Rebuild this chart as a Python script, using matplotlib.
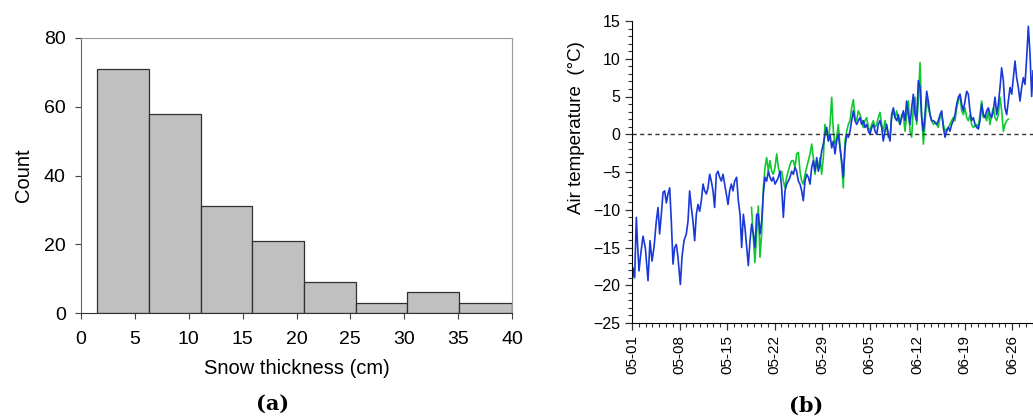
import matplotlib.pyplot as plt
from matplotlib.ticker import MultipleLocator

# (a) histogram of snow thickness
bin_edges = [1.5, 6.3, 11.1, 15.9, 20.7, 25.5, 30.3, 35.1, 40.0]
counts = [71, 58, 31, 21, 9, 3, 6, 3]

# (b) air temperature, days since 05-01
blue_day = [0.00, 0.15, 0.39, 0.64, 0.79, 1.03, 1.28, 1.62, 1.96, 2.36, 2.65, 2.95, 3.24, 3.58,
            3.83, 4.07, 4.32, 4.57, 4.81, 5.06, 5.30, 5.55, 5.79, 6.04, 6.28, 6.53, 6.77, 7.12,
            7.36, 7.66, 8.00, 8.25, 8.49, 8.74, 8.98, 9.23, 9.47, 9.72, 9.97, 10.21, 10.46, 10.70,
            10.95, 11.19, 11.44, 11.68, 11.93, 12.17, 12.42, 12.67, 12.91, 13.16, 13.40, 13.65,
            13.89, 14.14, 14.38, 14.63, 14.87, 15.12, 15.41, 15.66, 15.91, 16.15, 16.40, 16.64,
            16.89, 17.13, 17.38, 17.62, 17.87, 18.11, 18.36, 18.61, 18.85, 19.10, 19.34, 19.59,
            19.83, 20.08, 20.32, 20.57, 20.81, 21.06, 21.31, 21.55, 21.80, 22.04, 22.29, 22.53,
            22.78, 23.02, 23.27, 23.52, 23.76, 24.01, 24.25, 24.50, 24.74, 24.99, 25.23, 25.48,
            25.72, 25.97, 26.22, 26.46, 26.71, 26.95, 27.20, 27.44, 27.69, 27.93, 28.18, 28.42,
            28.67, 28.92, 29.16, 29.41, 29.65, 29.90, 30.14, 30.39, 30.63, 30.88, 31.12, 31.37,
            31.62, 31.86, 32.11, 32.35, 32.60, 32.84, 33.09, 33.33, 33.58, 33.82, 34.07, 34.31,
            34.56, 34.81, 35.05, 35.30, 35.54, 35.79, 36.03, 36.28, 36.52, 36.77, 37.01, 37.26,
            37.51, 37.75, 38.00, 38.24, 38.49, 38.73, 38.98, 39.22, 39.47, 39.72, 39.96, 40.21,
            40.45, 40.70, 40.94, 41.19, 41.43, 41.68, 41.92, 42.17, 42.42, 42.66, 42.91, 43.15,
            43.40, 43.64, 43.89, 44.13, 44.38, 44.62, 44.87, 45.11, 45.36, 45.61, 45.85, 46.10,
            46.34, 46.59, 46.83, 47.08, 47.32, 47.57, 47.82, 48.06, 48.31, 48.55, 48.80, 49.04,
            49.29, 49.53, 49.78, 50.02, 50.27, 50.52, 50.76, 51.01, 51.25, 51.50, 51.74, 51.99,
            52.23, 52.48, 52.72, 52.97, 53.21, 53.46, 53.71, 53.95, 54.20, 54.44, 54.69, 54.93,
            55.18, 55.42, 55.67, 55.92, 56.16, 56.41, 56.65, 56.90, 57.14, 57.39, 57.63, 57.88,
            58.13, 58.37, 58.62, 58.86, 59.06]
blue_temp = [-19.9, -17.7, -19.0, -11.0, -14.1, -18.1, -15.9, -13.5, -15.0, -19.4, -14.1, -16.8,
             -15.0, -11.5, -9.7, -13.2, -10.6, -7.7, -7.5, -9.1, -7.9, -7.1, -11.5, -17.2, -15.0,
             -14.6, -16.3, -19.9, -16.3, -14.1, -13.2, -11.5, -7.5, -9.7, -11.5, -14.1, -10.6,
             -9.3, -10.2, -8.8, -6.6, -7.5, -7.9, -7.1, -5.3, -6.2, -7.5, -9.7, -5.3, -4.9, -5.7,
             -6.2, -5.3, -6.6, -7.9, -9.3, -7.5, -6.6, -7.5, -6.2, -5.7, -8.8, -10.6, -15.0,
             -10.6, -12.4, -15.0, -17.4, -14.1, -11.9, -13.2, -15.0, -10.6, -10.6, -13.2, -11.5,
             -7.9, -5.7, -6.2, -4.9, -5.7, -6.2, -5.7, -6.6, -6.2, -5.7, -4.9, -7.1, -11.0, -7.5,
             -6.6, -6.2, -5.7, -4.9, -5.3, -4.4, -4.9, -6.2, -6.6, -7.5, -8.8, -6.2, -5.3, -5.7,
             -6.6, -4.4, -3.5, -4.9, -3.1, -4.9, -4.0, -2.2, -1.3, 0.0, 0.9, -0.9, 0.0, -1.8,
             -0.9, -2.6, -0.9, 0.0, -1.8, -3.5, -5.7, -1.8, 0.0, -0.4, 0.4, 1.8, 3.1, 1.8, 1.3,
             1.8, 2.2, 1.3, 1.8, 0.9, 1.3, 0.4, 0.0, 0.9, 1.3, 0.4, 0.0, 1.3, 1.8, 0.9, -0.9,
             0.4, 1.3, 0.0, -0.9, 2.6, 3.5, 2.2, 1.8, 2.6, 1.3, 2.2, 3.1, 1.8, 4.4, 2.6, 1.3, 3.5,
             5.3, 2.6, 1.8, 7.1, 6.2, 2.2, 0.4, 2.6, 5.7, 4.4, 2.6, 1.8, 1.8, 1.6, 1.3, 1.8, 2.6,
             3.1, 0.9, -0.4, 0.4, 0.9, 0.4, 1.3, 1.8, 2.6, 4.0, 4.9, 5.3, 4.0, 3.1, 4.4, 5.7,
             5.3, 3.1, 1.8, 2.2, 1.3, 0.9, 0.7, 1.8, 4.0, 2.6, 2.2, 3.1, 3.5, 2.6, 2.2, 3.1, 4.9,
             2.6, 4.0, 6.2, 8.8, 7.1, 3.5, 2.6, 4.4, 6.2, 5.3, 7.5, 9.7, 7.5, 6.2, 4.4, 6.2, 7.5,
             6.6, 10.2, 14.3, 10.6, 5.0, 8.4]

green_day = [17.60, 18.10, 18.60, 18.85, 19.10, 19.34, 19.59, 19.83, 20.08, 20.32, 20.57, 20.81,
             21.06, 21.31, 21.55, 21.80, 22.04, 22.29, 22.53, 22.78, 23.02, 23.27, 23.52, 23.76,
             24.01, 24.25, 24.50, 24.74, 24.99, 25.23, 25.48, 25.72, 25.97, 26.22, 26.46, 26.71,
             26.95, 27.20, 27.44, 27.69, 27.93, 28.18, 28.42, 28.67, 28.92, 29.16, 29.41, 29.65,
             29.90, 30.14, 30.39, 30.63, 30.88, 31.12, 31.37, 31.62, 31.86, 32.11, 32.35, 32.60,
             32.84, 33.09, 33.33, 33.58, 33.82, 34.07, 34.31, 34.56, 34.81, 35.05, 35.30, 35.54,
             35.79, 36.03, 36.28, 36.52, 36.77, 37.01, 37.26, 37.51, 37.75, 38.00, 38.24, 38.49,
             38.73, 38.98, 39.22, 39.47, 39.72, 39.96, 40.21, 40.45, 40.70, 40.94, 41.19, 41.43,
             41.68, 41.92, 42.17, 42.42, 42.66, 42.91, 43.15, 43.40, 43.64, 43.89, 44.13, 44.38,
             44.62, 44.87, 45.11, 45.36, 45.61, 45.85, 46.10, 46.34, 46.59, 46.83, 47.08, 47.32,
             47.57, 47.82, 48.06, 48.31, 48.55, 48.80, 49.04, 49.29, 49.53, 49.78, 50.02, 50.27,
             50.52, 50.76, 51.01, 51.25, 51.50, 51.74, 51.99, 52.23, 52.48, 52.72, 52.97, 53.21,
             53.46, 53.71, 53.95, 54.20, 54.44, 54.69, 54.93, 55.18, 55.42]
green_temp = [-9.7, -17.0, -9.5, -16.3, -13.0, -7.1, -4.4, -3.1, -4.9, -3.5, -4.9, -5.3, -4.4,
              -2.6, -4.4, -5.3, -4.9, -6.2, -7.1, -5.7, -4.9, -4.0, -3.5, -3.5, -4.4, -2.6, -2.4,
              -4.9, -6.2, -6.6, -5.3, -4.4, -3.5, -2.6, -1.3, -3.1, -5.3, -3.5, -4.4, -3.1, -5.3,
              -3.1, 1.3, 0.4, -0.9, 1.3, 4.9, 0.4, -1.3, -0.4, 1.3, -1.5, -4.0, -7.1, -0.9, 0.4,
              1.3, 1.8, 3.5, 4.6, 2.2, 1.8, 3.1, 2.6, 1.8, 0.9, 1.8, 2.2, 0.9, 0.4, 1.3, 1.8, 0.9,
              1.3, 2.2, 2.9, 1.3, 0.4, 1.8, 0.9, -0.4, -0.4, 2.2, 3.1, 2.2, 3.1, 1.8, 1.3, 2.6,
              2.6, 0.4, 2.6, 4.4, 0.4, -0.4, 3.5, 4.9, 1.3, 4.4, 9.5, 2.6, -1.3, 1.3, 4.9, 3.5,
              2.6, 1.8, 1.3, 1.6, 1.3, 0.9, 2.2, 2.6, 1.3, 0.4, 0.7, 0.9, 1.3, 1.8, 2.2, 1.8, 3.5,
              4.4, 5.3, 3.1, 2.6, 3.5, 2.2, 1.8, 2.6, 1.3, 0.9, 1.1, 1.3, 0.9, 2.6, 4.4, 2.2, 2.6,
              1.8, 3.1, 1.3, 2.6, 3.5, 2.2, 1.8, 2.6, 4.9, 3.1, 0.4, 1.3, 1.8, 2.0]

week_ticks = [0, 7, 14, 21, 28, 35, 42, 49, 56]
week_labels = ['05-01', '05-08', '05-15', '05-22', '05-29', '06-05', '06-12', '06-19', '06-26']

plt.rcParams['font.family'] = ['Liberation Sans', 'DejaVu Sans']

fig = plt.figure(figsize=(10.33, 4.16), dpi=100)

# ---- (a)
ax1 = fig.add_axes([81 / 1033, 103 / 416, 431 / 1033, 275 / 416])
widths = [bin_edges[i + 1] - bin_edges[i] for i in range(len(counts))]
ax1.bar(bin_edges[:-1], counts, width=widths, align='edge',
        color='#c0c0c0', edgecolor='#303030', linewidth=0.9)
ax1.set_xlim(0, 40)
ax1.set_ylim(0, 80)
ax1.set_xticks(range(0, 41, 5))
ax1.set_yticks(range(0, 81, 20))
ax1.tick_params(axis='x', direction='out', length=4, width=0.8, labelsize=14, pad=9, color='#444444')
ax1.tick_params(axis='y', direction='out', length=4, width=0.8, labelsize=14, pad=7, color='#444444')
ax1.spines['top'].set_color('#999999')
ax1.spines['right'].set_color('#999999')
ax1.spines['left'].set_color('#666666')
ax1.spines['bottom'].set_color('#333333')
ax1.set_xlabel('Snow thickness (cm)', fontsize=14.5, labelpad=8)
ax1.set_ylabel('Count', fontsize=14.5, labelpad=8)
fig.text(273 / 1033, 12 / 416, '(a)', fontsize=15, fontweight='bold',
         family='DejaVu Serif', ha='center', va='center')

# ---- (b)
ax2 = fig.add_axes([632 / 1033, 93 / 416, 60 * 6.79 / 1033, 302 / 416])
ax2.plot(green_day, green_temp, color='#10c830', linewidth=1.2)
ax2.plot(blue_day, blue_temp, color='#1838d8', linewidth=1.2)
ax2.axhline(0, color='#333333', linestyle=(0, (3, 2.5)), linewidth=1)
ax2.set_xlim(0, 60)
ax2.set_ylim(-25, 15)
ax2.set_yticks(range(-25, 16, 5))
ax2.yaxis.set_minor_locator(MultipleLocator(1))
ax2.set_xticks(week_ticks)
ax2.set_xticklabels(week_labels, rotation=90)
ax2.xaxis.set_minor_locator(MultipleLocator(1))
ax2.tick_params(which='major', direction='out', length=5, width=0.9, labelsize=11.5, color='#333333')
ax2.tick_params(which='minor', direction='out', length=3, width=0.8, color='#333333')
ax2.tick_params(axis='x', which='major', labelsize=11)
ax2.spines['top'].set_visible(False)
ax2.spines['right'].set_visible(False)
ax2.set_ylabel('Air temperature  (\u00b0C)', fontsize=13.5)
ax2.yaxis.set_label_coords(-0.115, 0.646)
fig.text(806 / 1033, 10 / 416, '(b)', fontsize=15, fontweight='bold',
         family='DejaVu Serif', ha='center', va='center')

fig.savefig('out.png', dpi=100)
